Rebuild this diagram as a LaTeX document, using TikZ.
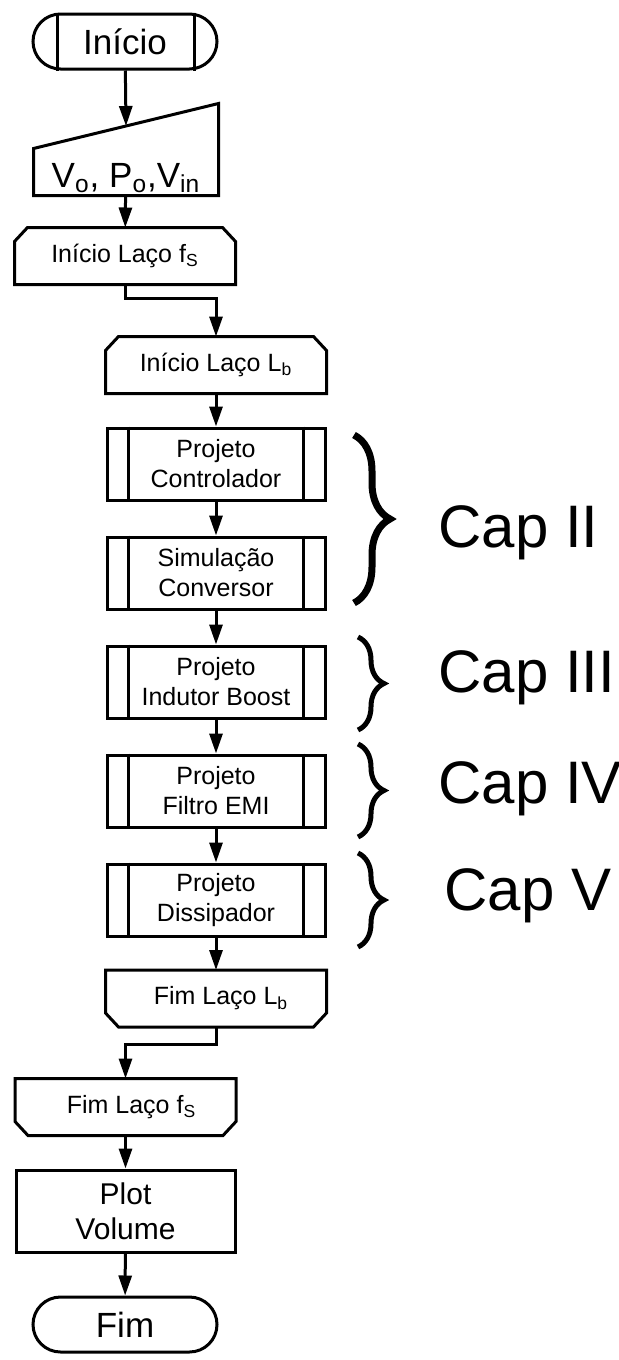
\documentclass[tikz,border=0pt]{standalone}
\usepackage{fontspec}
\setmainfont{Liberation Sans}
\usetikzlibrary{arrows.meta,shapes.misc,decorations.pathreplacing,calc}

\tikzset{
    seta/.style={-{Triangle[width=6.5pt,length=10pt]}},
    terminal/.style={draw, rounded rectangle, minimum width=92pt, minimum height=27.5pt,
        inner sep=0pt, font=\fontsize{17.5}{21}\selectfont},
    entrada/.style={minimum width=91pt, inner xsep=0pt, inner ysep=0pt,
        text height=41pt, text depth=3.5pt, font=\fontsize{17.5}{21}\selectfont},
    laco/.style={rectangle, minimum width=109pt, minimum height=27pt, inner sep=0pt,
        font=\fontsize{12.5}{15}\selectfont},
    subproc/.style={draw, rectangle, minimum width=109pt, minimum height=36pt, inner sep=0pt,
        align=center, font=\fontsize{12.5}{15}\selectfont},
    bloco/.style={draw, rectangle, minimum width=109.5pt, minimum height=41pt, inner sep=0pt,
        align=center, font=\fontsize{15}{17.5}\selectfont},
    chave/.style={decorate, line width=2.5pt, decoration={brace, amplitude=13pt}},
    capitulo/.style={anchor=base west, inner sep=0pt, font=\fontsize{30}{36}\selectfont},
}

\begin{document}
\begin{tikzpicture}[x=0.5pt, y=-0.5pt, line width=1.5pt]
    \useasboundingbox (0,0) rectangle (619,1360);

    % coluna principal
    \node[terminal] (inicio) at (125,41.5) {Início};
    \node[entrada] (dados) at (126,149.5) {V\textsubscript{o}, P\textsubscript{o},V\textsubscript{in}};
    \node[laco] (inifs) at (125,256) {Início Laço f\textsubscript{S}};
    \node[laco] (inilb) at (216,365) {Início Laço L\textsubscript{b}};
    \node[subproc] (ctrl) at (216,464) {Projeto\\Controlador};
    \node[subproc] (sim)  at (216,573) {Simulação\\Conversor};
    \node[subproc] (ind)  at (216,682) {Projeto\\Indutor Boost};
    \node[subproc] (emi)  at (216,791) {Projeto\\Filtro EMI};
    \node[subproc] (diss) at (216,900) {Projeto\\Dissipador};
    \node[laco] (fimlb) at (216,998.5) {\hspace*{5pt}Fim Laço L\textsubscript{b}};
    \node[laco] (fimfs) at (125.5,1107) {\hspace*{6pt}Fim Laço f\textsubscript{S}};
    \node[bloco] (plot) at (125.5,1211) {Plot\\Volume};
    \node[terminal] (fim) at (125,1324.5) {Fim};

    % barras do terminal de inicio e dos subprocessos
    \draw ([xshift=-34pt]inicio.north) -- ([xshift=-34pt]inicio.south)
          ([xshift=34.5pt]inicio.north) -- ([xshift=34.5pt]inicio.south);
    \foreach \n in {ctrl,sim,ind,emi,diss}
        \draw ([xshift=11.5pt]\n.north west) -- ([xshift=11.5pt]\n.south west)
              ([xshift=-11.5pt]\n.north east) -- ([xshift=-11.5pt]\n.south east);

    % limites de laco (cantos chanfrados)
    \foreach \n in {inifs,inilb}
        \draw ([xshift=6.5pt]\n.north west) -- ([xshift=-6.5pt]\n.north east)
            -- ([yshift=-7pt]\n.north east) -- (\n.south east) -- (\n.south west)
            -- ([yshift=-7pt]\n.north west) -- cycle;
    \foreach \n in {fimlb,fimfs}
        \draw (\n.north west) -- (\n.north east) -- ([yshift=7pt]\n.south east)
            -- ([xshift=-6.5pt]\n.south east) -- ([xshift=6.5pt]\n.south west)
            -- ([yshift=7pt]\n.south west) -- cycle;

    % entrada manual
    \coordinate (dadosNW) at ([yshift=-22.5pt]dados.north west);
    \coordinate (dadosN) at ($(dadosNW)!0.5!(dados.north east)$);
    \draw (dados.south west) -- (dados.south east) -- (dados.north east) -- (dadosNW) -- cycle;

    % setas
    \draw[seta] (inicio) -- (dadosN);
    \draw[seta] (dados) -- (inifs);
    \draw[seta] (inifs.south) -- ++(0,14) -| (inilb.north);
    \draw[seta] (inilb) -- (ctrl);
    \draw[seta] (ctrl) -- (sim);
    \draw[seta] (sim) -- (ind);
    \draw[seta] (ind) -- (emi);
    \draw[seta] (emi) -- (diss);
    \draw[seta] (diss) -- (fimlb);
    \draw[seta] (fimlb.south) -- ++(0,17) -| (fimfs.north);
    \draw[seta] (fimfs) -- (plot);
    \draw[seta] (plot) -- (fim);

    % chaves dos capitulos
    \draw[chave, line width=3.5pt, decoration={amplitude=18pt}] (354,435) -- (354,603);
    \draw[chave] (358,637) -- (358,730);
    \draw[chave] (358,744) -- (358,837);
    \draw[chave] (358,853) -- (358,947);
    \node[capitulo] (cap2) at (437,547) {Cap II};
    \node[capitulo] (cap3) at (437,692) {Cap III};
    \node[capitulo] (cap4) at (437,803) {Cap IV};
    \node[capitulo] (cap5) at (443,910) {Cap V};
\end{tikzpicture}
\end{document}
